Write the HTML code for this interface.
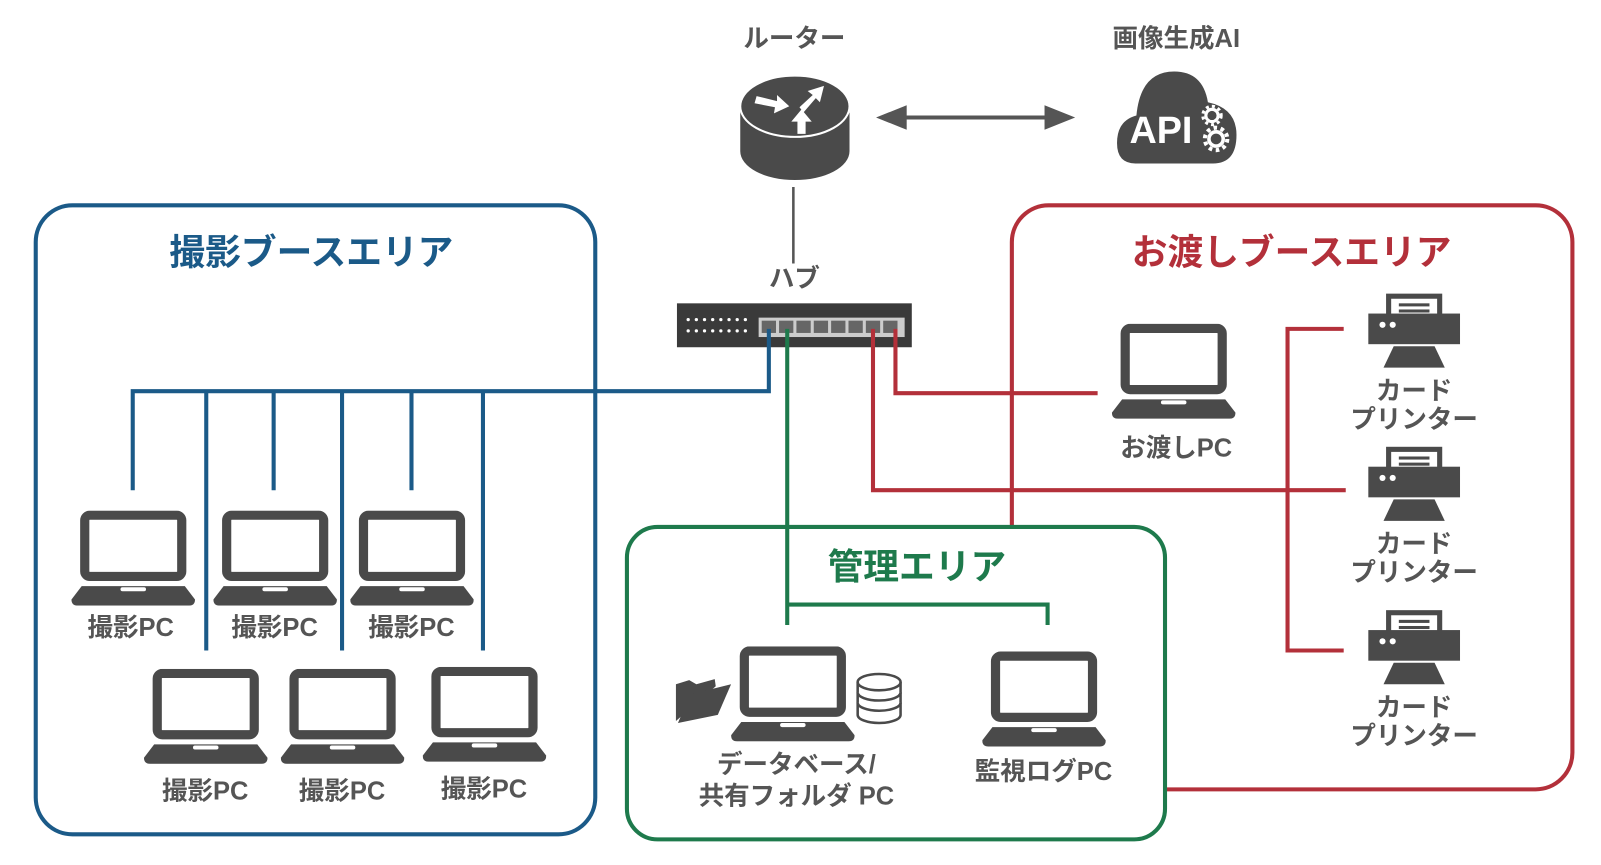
<!DOCTYPE html>
<html><head><meta charset="utf-8"><style>
html,body{margin:0;padding:0;background:#fff;}
svg{display:block;}
text{font-family:"Liberation Sans","Noto Sans CJK JP",sans-serif;font-weight:bold;}
.lb{fill:#555;font-size:25px;text-anchor:middle;}
</style></head><body>
<svg width="1601" height="865" viewBox="0 0 1568 847" xmlns="http://www.w3.org/2000/svg">
<defs>
<symbol id="lap" viewBox="0 0 121 93">
<rect x="13" y="4.5" width="95" height="60" rx="5" fill="#fff" stroke="#4a4a4a" stroke-width="9"/>
<path d="M10 74 H111 L121 87 Q121 93 115 93 H6 Q0 93 0 87 Z" fill="#4a4a4a"/>
<rect x="48" y="75" width="25" height="4" rx="2" fill="#fff"/>
</symbol>
<symbol id="prn" viewBox="0 0 90 75">
<rect x="20" y="3" width="50" height="20" fill="#fff" stroke="#4a4a4a" stroke-width="5"/>
<rect x="30" y="10" width="30" height="3" fill="#4a4a4a"/>
<rect x="30" y="16" width="30" height="3" fill="#4a4a4a"/>
<rect x="0" y="20" width="90" height="30" fill="#4a4a4a"/>
<circle cx="14" cy="31" r="3" fill="#fff"/><circle cx="24" cy="31" r="3" fill="#fff"/>
<path d="M25 52 H65 L75 73 H15 Z" fill="#4a4a4a"/>
</symbol>
</defs>

<rect x="35" y="201" width="548" height="616" rx="36" fill="none" stroke="#1b5a88" stroke-width="4"/>
<rect x="991" y="201" width="549" height="572" rx="36" fill="none" stroke="#b3303a" stroke-width="4"/>
<rect x="614" y="516" width="527" height="306" rx="30" fill="#fff" stroke="#1e7a4c" stroke-width="4"/>

<text x="305" y="259" fill="#1b5a88" font-size="35" text-anchor="middle">撮影ブースエリア</text>
<text x="1265" y="259" fill="#b3303a" font-size="35" text-anchor="middle">お渡しブースエリア</text>
<text x="898" y="567" fill="#1e7a4c" font-size="35" text-anchor="middle">管理エリア</text>

<text x="778" y="46" class="lb" font-size="22">ルーター</text>
<text x="1152" y="46" class="lb" font-size="22">画像生成AI</text>
<text x="778" y="281" class="lb" font-size="22">ハブ</text>

<path d="M725 104 V148 A53 28 0 0 0 832 148 V104 Z" fill="#4a4a4a"/>
<ellipse cx="778.5" cy="104" rx="53.5" ry="30" fill="#4a4a4a" stroke="#fff" stroke-width="2"/>
<g fill="#fff">
<path d="M741 94 L761 99 L761 93 L773 104 L758 111 L759 105 L739 101 Z"/>
<path d="M783 105 L796 93 L791 89 L807 84 L803 100 L799 96 L787 110 Z"/>
<path d="M781 131 L781 119 L775 119 L785 107 L795 119 L789 119 L789 131 Z"/>
</g>
<line x1="777" y1="183" x2="777" y2="258" stroke="#555" stroke-width="2.5"/>

<line x1="875" y1="115" x2="1035" y2="115" stroke="#555" stroke-width="4"/>
<path d="M858 115 L888 103 L888 127 Z" fill="#555"/>
<path d="M1053 115 L1023 103 L1023 127 Z" fill="#555"/>

<path d="M1112 160 Q1094 160 1094 140 Q1094 118 1113 113 Q1117 70 1150 70 Q1178 70 1183 100 Q1211 106 1211 132 Q1211 160 1188 160 Z" fill="#4a4a4a"/>
<text x="1137" y="140" fill="#fff" font-size="37" text-anchor="middle" style="font-family:'Liberation Sans',sans-serif">API</text>
<g fill="none" stroke="#fff">
<circle cx="1187" cy="113" r="6" stroke-width="3"/>
<circle cx="1187" cy="113" r="9" stroke-width="3" stroke-dasharray="3 3"/>
<circle cx="1191" cy="136" r="7" stroke-width="3.5"/>
<circle cx="1191" cy="136" r="11" stroke-width="4" stroke-dasharray="3.5 3.5"/>
</g>

<rect x="663" y="297" width="230" height="43" fill="#3a3a3a"/>
<g fill="#fff">
<circle cx="674" cy="313" r="1.6"/><circle cx="682" cy="313" r="1.6"/><circle cx="690" cy="313" r="1.6"/><circle cx="698" cy="313" r="1.6"/><circle cx="706" cy="313" r="1.6"/><circle cx="714" cy="313" r="1.6"/><circle cx="722" cy="313" r="1.6"/><circle cx="730" cy="313" r="1.6"/>
<circle cx="674" cy="324" r="1.6"/><circle cx="682" cy="324" r="1.6"/><circle cx="690" cy="324" r="1.6"/><circle cx="698" cy="324" r="1.6"/><circle cx="706" cy="324" r="1.6"/><circle cx="714" cy="324" r="1.6"/><circle cx="722" cy="324" r="1.6"/><circle cx="730" cy="324" r="1.6"/>
</g>
<rect x="743" y="311" width="143" height="19" fill="#ccc"/>
<g fill="#666">
<rect x="746" y="314" width="14" height="12"/><rect x="763" y="314" width="14" height="12"/><rect x="780" y="314" width="14" height="12"/><rect x="797" y="314" width="14" height="12"/><rect x="814" y="314" width="14" height="12"/><rect x="831" y="314" width="14" height="12"/><rect x="848" y="314" width="14" height="12"/><rect x="865" y="314" width="14" height="12"/>
</g>

<g stroke="#1b5a88" stroke-width="4" fill="none">
<path d="M753 322 V383 H130 V480"/>
<line x1="202" y1="383" x2="202" y2="637"/>
<line x1="268" y1="383" x2="268" y2="480"/>
<line x1="335" y1="383" x2="335" y2="637"/>
<line x1="403" y1="383" x2="403" y2="480"/>
<line x1="473" y1="383" x2="473" y2="637"/>
</g>
<g stroke="#1e7a4c" stroke-width="4" fill="none">
<path d="M771 322 V612"/>
<path d="M771 592 H1026 V612"/>
</g>
<g stroke="#b3303a" stroke-width="4" fill="none">
<path d="M877 322 V385 H1075"/>
<path d="M855 322 V480 H1318"/>
<path d="M1316 322 H1261 V637 H1316"/>
</g>

<use href="#lap" x="70" y="500" width="121" height="93"/>
<use href="#lap" x="209" y="500" width="121" height="93"/>
<use href="#lap" x="343" y="500" width="121" height="93"/>
<use href="#lap" x="141" y="655" width="121" height="93"/>
<use href="#lap" x="275" y="655" width="121" height="93"/>
<use href="#lap" x="414" y="653" width="121" height="93"/>
<text x="128" y="623" class="lb">撮影PC</text>
<text x="269" y="623" class="lb">撮影PC</text>
<text x="403" y="623" class="lb">撮影PC</text>
<text x="201" y="783" class="lb">撮影PC</text>
<text x="335" y="783" class="lb">撮影PC</text>
<text x="474" y="781" class="lb">撮影PC</text>

<use href="#lap" x="1089" y="317" width="121" height="93"/>
<text x="1152" y="447" class="lb">お渡しPC</text>

<use href="#prn" x="1340" y="287" width="90" height="75"/>
<use href="#prn" x="1340" y="437" width="90" height="75"/>
<use href="#prn" x="1340" y="597" width="90" height="75"/>
<text x="1385" y="391" class="lb" font-size="23">カード</text><text x="1385" y="419" class="lb" font-size="23">プリンター</text>
<text x="1385" y="541" class="lb" font-size="23">カード</text><text x="1385" y="569" class="lb" font-size="23">プリンター</text>
<text x="1385" y="701" class="lb" font-size="23">カード</text><text x="1385" y="729" class="lb" font-size="23">プリンター</text>

<use href="#lap" x="716" y="633" width="121" height="93"/>
<path d="M662 706 L662 670 L675 666 L682 670 L700 665 L701 672 Z" fill="#4a4a4a"/>
<path d="M664 708 L676 680 L716 670 L703 700 Z" fill="#4a4a4a"/>
<g fill="#fff" stroke="#4a4a4a" stroke-width="2.5">
<path d="M840 668 V700 A21 8 0 0 0 882 700 V668"/>
<path d="M840 688 A21 8 0 0 0 882 688"/>
<path d="M840 678 A21 8 0 0 0 882 678"/>
<ellipse cx="861" cy="668" rx="21" ry="8"/>
</g>
<text x="780" y="757" class="lb">データベース/</text>
<text x="780" y="788" class="lb">共有フォルダ PC</text>
<use href="#lap" x="962" y="638" width="121" height="93"/>
<text x="1022" y="764" class="lb">監視ログPC</text>
</svg>
</body></html>
